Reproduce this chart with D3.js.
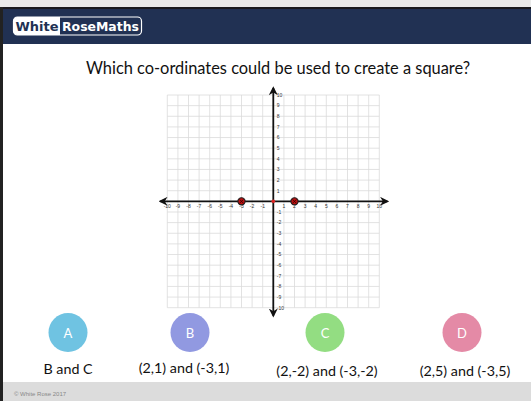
<!DOCTYPE html>
<html><head><meta charset="utf-8">
<script src="https://cdn.jsdelivr.net/npm/d3@7"></script>
<style>body{margin:0;background:#fff}svg{display:block}</style>
</head><body>
<script>
const xTicks = [-10,-9,-8,-7,-6,-5,-4,-3,-2,-1,1,2,3,4,5,6,7,8,9,10];
const yTicks = [-10,-9,-8,-7,-6,-5,-4,-3,-2,-1,1,2,3,4,5,6,7,8,9,10];
const pointsX = [-3, 2];
const pointsY = [0, 0];
const optionLetters = ["A","B","C","D"];
const optionLabels = ["B and C","(2,1) and (-3,1)","(2,-2) and (-3,-2)","(2,5) and (-3,5)"];
const optionColors = ["#6fc3e2","#9199e1","#93dd82","#e48aa6"];
const title = "Which co-ordinates could be used to create a square?";

const W = 531, H = 401;
const svg = d3.select("body").append("svg").attr("width", W).attr("height", H);
const font = "Lato, 'Open Sans', sans-serif";

// header
svg.append("rect").attr("x",0).attr("y",0).attr("width",W).attr("height",7).attr("fill","#e9e9e9");
svg.append("rect").attr("x",0).attr("y",7).attr("width",W).attr("height",37).attr("fill","#213153");
svg.append("rect").attr("x",0).attr("y",7).attr("width",W).attr("height",2).attr("fill","#1a1a1f");
// left border
svg.append("rect").attr("x",0).attr("y",7).attr("width",3).attr("height",H-7).attr("fill","#222");
// logo
const lg = svg.append("g");
lg.append("rect").attr("x",13.5).attr("y",17).attr("width",128).attr("height",18).attr("rx",4)
  .attr("fill","#213153").attr("stroke","#fff").attr("stroke-width",1.2);
lg.append("path").attr("d","M17.5,17 H60 V35 H17.5 A4,4 0 0 1 13.5,31 V21 A4,4 0 0 1 17.5,17 Z").attr("fill","#fff");
lg.append("text").attr("x",15.5).attr("y",31).attr("font-family","'DejaVu Sans', sans-serif").attr("font-weight","bold")
  .attr("font-size",13).attr("fill","#213153").attr("textLength",43).attr("lengthAdjust","spacingAndGlyphs").text("White");
lg.append("text").attr("x",62).attr("y",31).attr("font-family","'DejaVu Sans', sans-serif").attr("font-weight","bold")
  .attr("font-size",13).attr("fill","#fff").attr("textLength",77).attr("lengthAdjust","spacingAndGlyphs").text("RoseMaths");

// footer
svg.append("rect").attr("x",3).attr("y",382).attr("width",W-3).attr("height",H-382).attr("fill","#dcdcdc");
svg.append("text").attr("x",14).attr("y",396).attr("font-family","'Liberation Sans', Arial, sans-serif")
  .attr("font-size",6).attr("fill","#888").text("© White Rose 2017");

// title
svg.append("text").attr("x",278).attr("y",74).attr("text-anchor","middle").attr("font-family",font)
  .attr("font-size",16.4).attr("fill","#111").text(title);

// grid
const x = d3.scaleLinear().domain([-10,10]).range([167.3,379.3]);
const y = d3.scaleLinear().domain([-10,10]).range([307.7,95]);
const grid = svg.append("g");
const all = d3.range(-10,11);
grid.selectAll("line.v").data(all).enter().append("line")
  .attr("x1",d=>x(d)).attr("x2",d=>x(d)).attr("y1",y(-10)).attr("y2",y(10))
  .attr("stroke","#dadada").attr("stroke-width",0.8);
grid.selectAll("line.h").data(all).enter().append("line")
  .attr("y1",d=>y(d)).attr("y2",d=>y(d)).attr("x1",x(-10)).attr("x2",x(10))
  .attr("stroke","#dadada").attr("stroke-width",0.8);

// arrowheads
const defs = svg.append("defs");
defs.append("marker").attr("id","arr").attr("viewBox","0 0 10 10").attr("refX",8).attr("refY",5)
  .attr("markerWidth",5).attr("markerHeight",5).attr("orient","auto-start-reverse")
  .append("path").attr("d","M0,0 L10,5 L0,10 L3,5 Z").attr("fill","#111");

// axes
svg.append("line").attr("x1",x(-10)-7).attr("x2",x(10)+8).attr("y1",y(0)).attr("y2",y(0))
  .attr("stroke","#111").attr("stroke-width",1.8).attr("marker-start","url(#arr)").attr("marker-end","url(#arr)");
svg.append("line").attr("y1",y(10)-7).attr("y2",y(-10)+8).attr("x1",x(0)).attr("x2",x(0))
  .attr("stroke","#111").attr("stroke-width",1.8).attr("marker-start","url(#arr)").attr("marker-end","url(#arr)");

// tick labels
svg.selectAll("text.xt").data(xTicks).enter().append("text")
  .attr("x",d=>x(d)).attr("y",y(0)+7).attr("text-anchor","middle")
  .attr("font-family","'Liberation Sans', Arial, sans-serif").attr("font-size",5).attr("fill","#333").text(d=>d);
svg.selectAll("text.yt").data(yTicks).enter().append("text")
  .attr("x",x(0)+3.5).attr("y",d=>y(d)+1.8)
  .attr("font-family","'Liberation Sans', Arial, sans-serif").attr("font-size",5).attr("fill","#333").text(d=>d);

// points
svg.append("circle").attr("cx",x(0)).attr("cy",y(0)).attr("r",1.8).attr("fill","#d22");
svg.selectAll("circle.pt").data(pointsX).enter().append("circle")
  .attr("cx",d=>x(d)).attr("cy",(d,i)=>y(pointsY[i])).attr("r",3.6)
  .attr("fill","#b11").attr("stroke","#222").attr("stroke-width",1.2);
svg.selectAll("path.px").data(pointsX).enter().append("path")
  .attr("d",(d,i)=>{const cx=x(d), cy=y(pointsY[i]); return `M${cx-2},${cy-2}L${cx+2},${cy+2}M${cx+2},${cy-2}L${cx-2},${cy+2}`;})
  .attr("stroke","#300").attr("stroke-width",0.8);

// options
const ocx = [68,190,325,462];
const lcx = [68,184,327,465];
const lcy = [374,373,376,376];
svg.selectAll("circle.opt").data(optionLetters).enter().append("circle")
  .attr("cx",(d,i)=>ocx[i]).attr("cy",332.5).attr("r",19.5).attr("fill",(d,i)=>optionColors[i]);
svg.selectAll("text.ol").data(optionLetters).enter().append("text")
  .attr("x",(d,i)=>ocx[i]).attr("y",337.5).attr("text-anchor","middle").attr("font-family",font)
  .attr("font-size",13).attr("fill","#fff").text(d=>d);
svg.selectAll("text.lab").data(optionLabels).enter().append("text")
  .attr("x",(d,i)=>lcx[i]).attr("y",(d,i)=>lcy[i]).attr("text-anchor","middle").attr("font-family",font)
  .attr("font-size",14.3).attr("fill","#111").text(d=>d);
</script>
</body></html>
